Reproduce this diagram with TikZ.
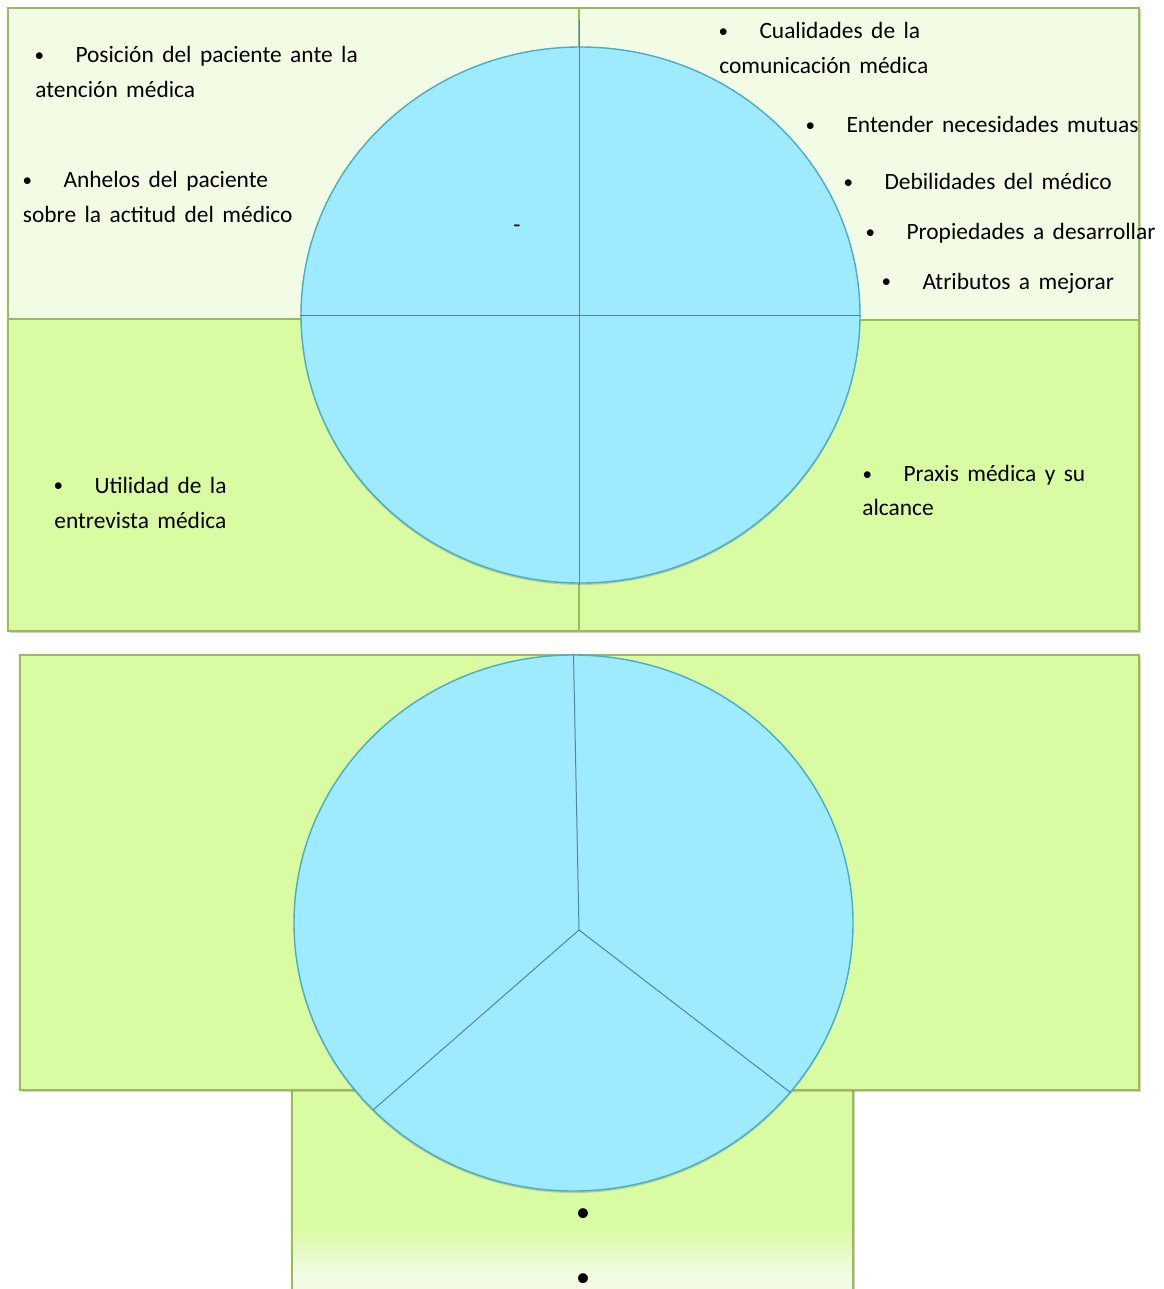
\documentclass[tikz,border=0pt]{standalone}
\usepackage{fontspec}
\setmainfont{Carlito}[WordSpace=1.6]
\usetikzlibrary{shapes.geometric, shadows}

\definecolor{paleleaf}{HTML}{F2FCE5}
\definecolor{leaf}{HTML}{D9FBA1}
\definecolor{leafedge}{HTML}{9BBB59}
\definecolor{sky}{HTML}{9EEBFF}
\definecolor{skyedge}{HTML}{4BACC6}
\definecolor{spokeblue}{HTML}{4F81BD}

\begin{document}
\begin{tikzpicture}[x=0.5pt, y=-0.5pt,
  panel/.style={draw=leafedge, line width=0.75pt,
    drop shadow={shadow xshift=0.8pt, shadow yshift=-1.2pt, opacity=0.3, fill=black!60}},
  ring/.style={ellipse, draw=skyedge, fill=sky, line width=0.7pt, inner sep=0pt,
    minimum width=279.5pt, minimum height=268pt,
    drop shadow={shadow xshift=0pt, shadow yshift=-1pt, opacity=0.3, fill=black!60}},
  spoke/.style={draw=spokeblue, line width=0.5pt},
  txt/.style={anchor=base west, inner sep=0pt, font=\fontsize{11.7}{14}\selectfont},
  dot/.style={anchor=base, inner sep=0pt, text depth=0pt, font=\fontsize{14}{16}\selectfont}
]
  \useasboundingbox (0,0) rectangle (1163,1289);

  % upper panel: four quadrants
  \path[panel, fill=paleleaf] (8,8)     rectangle (579,319);
  \path[panel, fill=paleleaf] (579,8)   rectangle (1139,320);
  \path[panel, fill=leaf]     (8,319)   rectangle (579,631);
  \path[panel, fill=leaf]     (579,320) rectangle (1139,631);

  \node[ring] (ring) at (580.5,315) {};
  \coordinate (ringtop) at (579,20);
  \draw[spoke] (ringtop) -- (ringtop |- ring.south);
  \draw[spoke] (ring.west) -- (ring.east);

  \node[anchor=base, inner sep=0pt, font=\fontsize{11.7}{14}\selectfont] (dash) at (517,233) {-};

  % upper panel texts
  \newcommand{\bul}{\makebox[20.4pt][l]{\raisebox{0.6pt}{\fontsize{9.5}{10}\selectfont\textbullet}}}
  \node[txt] (posA) at (34.3,63)  {\bul Posición del paciente ante la};
  \node[txt] (posB) at (35,98)    {atención médica};
  \node[txt] (anhA) at (22.3,188) {\bul Anhelos del paciente};
  \node[txt] (anhB) at (22.5,222) {sobre la actitud del médico};
  \node[txt] (cuaA) at (718.3,39) {\bul Cualidades de la};
  \node[txt] (cuaB) at (719,73.5) {comunicación médica};
  \node[txt] (ent)  at (805.3,133) {\bul Entender necesidades mutuas};
  \node[txt] (deb)  at (843.3,190) {\bul Debilidades del médico};
  \node[txt] (pro)  at (865.3,240) {\bul Propiedades a desarrollar};
  \node[txt] (atr)  at (881.3,289) {\bul Atributos a mejorar};
  \node[txt] (utiA) at (53.3,493) {\bul Utilidad de la};
  \node[txt] (utiB) at (54,528)   {entrevista médica};
  \node[txt] (praA) at (862.3,481.5) {\bul Praxis médica y su};
  \node[txt] (praB) at (862,515.5)   {alcance};

  % lower panel
  \path[fill=leaf, drop shadow={shadow xshift=0.8pt, shadow yshift=0pt, opacity=0.3, fill=black!60}]
    (292,1090) rectangle (853,1289);
  \shade[top color=leaf, bottom color=paleleaf] (292,1228) rectangle (853,1275);
  \fill[paleleaf] (292,1275) rectangle (853,1289);
  \draw[leafedge, line width=0.75pt] (292,1289) -- (292,1090) -- (853,1090) -- (853,1289);

  \path[panel, fill=leaf] (20,655) rectangle (1139,1090);

  \node[ring] (pie) at (573.5,923) {};
  \coordinate (hub) at (579,930);
  \draw[spoke] (hub) -- (pie.north);
  \draw[spoke] (hub) -- (pie.223.4);
  \draw[spoke] (hub) -- (pie.322.4);

  \node[dot] (dotA) at (583,1221) {\textbullet};
  \node[dot] (dotB) at (583,1286) {\textbullet};
\end{tikzpicture}
\end{document}
